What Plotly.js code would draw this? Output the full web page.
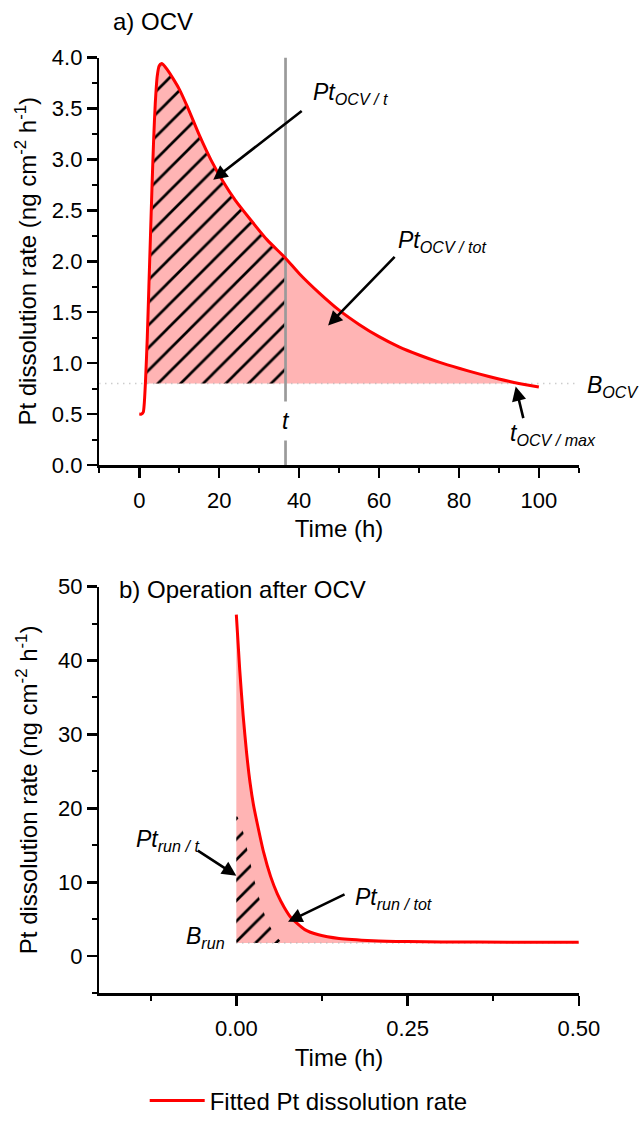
<!DOCTYPE html>
<html>
<head>
<meta charset="utf-8">
<script src="https://cdn.plot.ly/plotly-3.0.1.min.js"></script>
<style>html,body{margin:0;padding:0;background:#fff;}#chart{width:640px;height:1124px;}</style>
</head>
<body>
<div id="chart"></div>
<script>
// ---------- Panel a) OCV ----------
const ocvTime = [0, 0.5, 1.0, 1.2, 1.53, 2.0, 2.4, 2.8, 3.2, 3.6, 4.0, 4.5, 5.0, 5.5, 6.0, 7.0, 8.5, 10, 12, 15, 18, 21, 24, 28, 32, 36.6, 40, 45, 50, 55, 60, 65, 70, 75, 80, 85, 90, 95, 100];
const ocvRate = [0.50, 0.50, 0.52, 0.58, 0.80, 1.25, 1.75, 2.25, 2.75, 3.20, 3.55, 3.82, 3.92, 3.94, 3.93, 3.88, 3.79, 3.69, 3.52, 3.24, 2.99, 2.78, 2.60, 2.40, 2.21, 2.03, 1.88, 1.69, 1.52, 1.38, 1.26, 1.16, 1.08, 1.01, 0.95, 0.895, 0.845, 0.80, 0.765];
const ocvBaseline = 0.8;          // B_OCV
const ocvFillStart = 1.53;        // curve crosses B_OCV (rising)
const ocvFillEnd = 95;            // t_OCV/max
const ocvT = 36.6;                // t
const ocvXRange = [-10, 110];
const ocvYRange = [0, 4];

// ---------- Panel b) Operation after OCV ----------
const runTime = [0, 0.005, 0.01, 0.015, 0.02, 0.025, 0.03, 0.04, 0.05, 0.06, 0.07, 0.08, 0.10, 0.12, 0.15, 0.20, 0.25, 0.30, 0.40, 0.50];
const runRate = [46.2, 38.7, 32.5, 27.5, 23.5, 20.5, 18.2, 14.0, 10.8, 8.4, 6.6, 5.2, 3.6, 2.9, 2.4, 2.1, 1.98, 1.93, 1.90, 1.90];
const runHatchTime = [0, 0.005, 0.01, 0.015, 0.02, 0.025, 0.03, 0.035, 0.04, 0.045, 0.05, 0.055, 0.06, 0.065, 0.068];
const runHatchRate = [19.1, 18.3, 16.8, 14.8, 12.8, 10.8, 9.0, 7.4, 6.0, 4.8, 3.9, 3.1, 2.5, 2.0, 1.8];
const runBaseline = 1.8;          // B_run
const runXRange = [-0.2, 0.5];
const runYRange = [-5, 50];

const seriesName = 'Fitted Pt dissolution rate';
const yTitle = 'Pt dissolution rate (ng cm<sup>-2</sup> h<sup>-1</sup>)';
const xTitle = 'Time (h)';

// ---------- styles ----------
const FONT = 'Arial, "Liberation Sans", sans-serif';
const RED = '#ff0000';
const PINK = '#ffb4b4';
const GREY = '#9a9a9a';
const SMOOTH = {shape: 'spline', smoothing: 0.6};

function subset(xs, ys, lo, hi) {
  const x = [], y = [];
  xs.forEach((v, i) => { if (v >= lo && v <= hi) { x.push(v); y.push(ys[i]); } });
  return {x, y};
}
const ocvPink = subset(ocvTime, ocvRate, ocvFillStart, ocvFillEnd);
const ocvHatch = subset(ocvTime, ocvRate, ocvFillStart, ocvT);

const noLine = {width: 0};
const noLineS = Object.assign({width: 0}, SMOOTH);
const hatchPattern = (size, sol) => ({shape: '/', size: size, solidity: sol, fgcolor: '#000', bgcolor: 'rgba(0,0,0,0)', fillmode: 'replace'});

const traces = [
  // panel a fills
  {x: [ocvFillStart, ocvFillEnd], y: [ocvBaseline, ocvBaseline], xaxis: 'x', yaxis: 'y', mode: 'lines', line: noLine, showlegend: false, hoverinfo: 'skip'},
  {x: ocvPink.x, y: ocvPink.y, xaxis: 'x', yaxis: 'y', mode: 'lines', line: noLineS, fill: 'tonexty', fillcolor: PINK, showlegend: false, hoverinfo: 'skip'},
  {x: [ocvFillStart, ocvT], y: [ocvBaseline, ocvBaseline], xaxis: 'x', yaxis: 'y', mode: 'lines', line: noLine, showlegend: false, hoverinfo: 'skip'},
  {x: ocvHatch.x, y: ocvHatch.y, xaxis: 'x', yaxis: 'y', mode: 'lines', line: noLineS, fill: 'tonexty', fillcolor: 'rgba(0,0,0,0)', fillpattern: hatchPattern(16, 0.17), showlegend: false, hoverinfo: 'skip'},
  // baseline dotted
  {x: ocvXRange, y: [ocvBaseline, ocvBaseline], xaxis: 'x', yaxis: 'y', mode: 'lines', line: {color: '#b4b4b4', width: 1.5, dash: '1px,5px'}, showlegend: false, hoverinfo: 'skip'},
  // t line
  {x: [ocvT, ocvT], y: ocvYRange, xaxis: 'x', yaxis: 'y', mode: 'lines', line: {color: GREY, width: 2.7}, showlegend: false, hoverinfo: 'skip'},
  // curve
  {x: ocvTime, y: ocvRate, xaxis: 'x', yaxis: 'y', mode: 'lines', name: seriesName, line: Object.assign({color: RED, width: 3}, SMOOTH), showlegend: true},

  // panel b fills
  {x: [runTime[0], runTime[runTime.length - 1]], y: [runBaseline, runBaseline], xaxis: 'x2', yaxis: 'y2', mode: 'lines', line: noLine, showlegend: false, hoverinfo: 'skip'},
  {x: runTime, y: runRate, xaxis: 'x2', yaxis: 'y2', mode: 'lines', line: noLineS, fill: 'tonexty', fillcolor: PINK, showlegend: false, hoverinfo: 'skip'},
  {x: [runHatchTime[0], runHatchTime[runHatchTime.length - 1]], y: [runBaseline, runBaseline], xaxis: 'x2', yaxis: 'y2', mode: 'lines', line: noLine, showlegend: false, hoverinfo: 'skip'},
  {x: runHatchTime, y: runHatchRate, xaxis: 'x2', yaxis: 'y2', mode: 'lines', line: noLineS, fill: 'tonexty', fillcolor: 'rgba(0,0,0,0)', fillpattern: hatchPattern(14.5, 0.19), showlegend: false, hoverinfo: 'skip'},
  {x: [runTime[0], runTime[runTime.length - 1]], y: [runBaseline, runBaseline], xaxis: 'x2', yaxis: 'y2', mode: 'lines', line: {color: '#b4b4b4', width: 1.5, dash: '1px,5px'}, showlegend: false, hoverinfo: 'skip'},
  {x: runTime, y: runRate, xaxis: 'x2', yaxis: 'y2', mode: 'lines', name: seriesName, line: Object.assign({color: RED, width: 3}, SMOOTH), showlegend: false}
];

const tickFont = {family: FONT, size: 22, color: '#000'};
const titleFont = {family: FONT, size: 24, color: '#000'};
const axisCommon = {
  showline: true, linecolor: '#000', linewidth: 2.5, showgrid: false, zeroline: false,
  ticks: 'outside', ticklen: 10, tickwidth: 2.5, tickcolor: '#000', tickfont: tickFont,
  fixedrange: true
};
const XDOM = [0.1552, 0.9044];
const minorX = (d) => ({dtick: d, ticklen: 5, tickwidth: 2, tickcolor: '#000', ticks: 'outside'});

const annFont = {family: FONT, size: 23, color: '#000'};
function label(text, xref, yref, x, y, extra) {
  return Object.assign({text: text, xref: xref, yref: yref, x: x, y: y, showarrow: false, xanchor: 'left', yanchor: 'middle', font: annFont}, extra || {});
}
function arrow(xref, yref, x, y, ax, ay) {
  return {text: '', xref: xref, yref: yref, x: x, y: y, ax: ax, ay: ay, showarrow: true, arrowhead: 2, arrowsize: 1.1, arrowwidth: 2.6, arrowcolor: '#000', standoff: 0, startstandoff: 0};
}

const annotations = [
  // panel a
  label('a) OCV', 'paper', 'paper', 0.2395, 0.9807, {xanchor: 'center', font: titleFont}),
  label('<i>Pt<sub>OCV / t</sub></i>', 'x', 'y', 43.1, 3.65),
  arrow('x', 'y', 18.5, 2.80, 90, -70),
  label('<i>Pt<sub>OCV / tot</sub></i>', 'x', 'y', 64.2, 2.19),
  arrow('x', 'y', 47.25, 1.37, 68, -70),
  label('<i>B<sub>OCV</sub></i>', 'x domain', 'y', 1.012, 0.77),
  label('<i>t<sub>OCV / max</sub></i>', 'x', 'y', 92.25, 0.30),
  arrow('x', 'y', 94.2, 0.77, 8, 33),
  label('<i>t</i>', 'x', 'y', ocvT, 0.435, {xanchor: 'center', bgcolor: '#fff', borderpad: 6}),
  // panel b
  label('b) Operation after OCV', 'x2 domain', 'y2 domain', 0.0376, 0.992, {font: titleFont}),
  label('<i>Pt<sub>run / t</sub></i>', 'x2', 'y2', -0.1488, 15.6),
  arrow('x2', 'y2', 0.0, 10.9, -40, -26),
  label('<i>Pt<sub>run / tot</sub></i>', 'x2', 'y2', 0.1706, 7.8),
  arrow('x2', 'y2', 0.0755, 4.67, 58, -28),
  label('<i>B<sub>run</sub></i>', 'x2', 'y2', -0.0771, 2.6)
];

const layout = {
  width: 640, height: 1124,
  margin: {l: 0, r: 0, t: 0, b: 0},
  paper_bgcolor: '#fff', plot_bgcolor: 'rgba(0,0,0,0)',
  font: {family: FONT, color: '#000'},
  showlegend: true,
  legend: {orientation: 'h', x: 0.2261, y: 0.0063, xanchor: 'left', yanchor: 'middle', itemwidth: 55, font: {family: FONT, size: 24, color: '#000'}, bgcolor: 'rgba(0,0,0,0)'},
  xaxis: Object.assign({}, axisCommon, {domain: XDOM, anchor: 'y', range: ocvXRange, tick0: 0, dtick: 20, ticklabelstandoff: 4,
    minor: minorX(10), title: {text: xTitle, font: titleFont, standoff: 9}}),
  yaxis: Object.assign({}, axisCommon, {domain: [0.5803, 0.9481], anchor: 'x', range: ocvYRange, tick0: 0, dtick: 0.5, tickformat: '.1f',
    minor: minorX(0.25), title: {text: yTitle, font: titleFont, standoff: 9}}),
  xaxis2: Object.assign({}, axisCommon, {domain: XDOM, anchor: 'y2', range: runXRange, tick0: 0, dtick: 0.25, tickformat: '.2f', ticklabelstandoff: 4,
    minor: minorX(0.125), title: {text: xTitle, font: titleFont, standoff: 9}}),
  yaxis2: Object.assign({}, axisCommon, {domain: [0.1036, 0.4706], anchor: 'x2', range: runYRange, tick0: 0, dtick: 10,
    minor: minorX(5), title: {text: yTitle, font: titleFont, standoff: 14}}),
  annotations: annotations
};

Plotly.newPlot('chart', traces, layout, {staticPlot: true, displayModeBar: false});
</script>
</body>
</html>
